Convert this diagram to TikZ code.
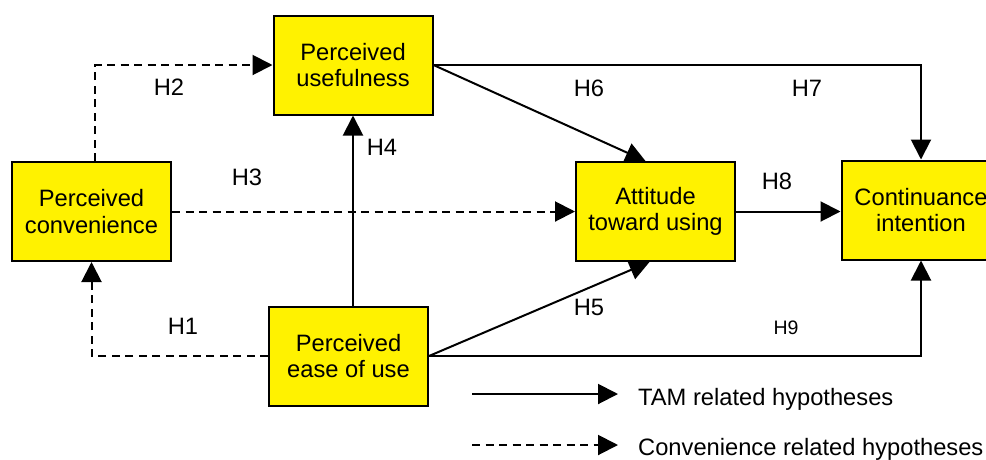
\documentclass[tikz,border=0pt]{standalone}
\usepackage{fontspec}
\setmainfont{Liberation Sans}
\usetikzlibrary{arrows.meta}

\begin{document}
\begin{tikzpicture}[
                x=1pt, y=-1pt,
                latent/.style={draw, line width=2pt, fill=yellow, align=center,
                    minimum width=159pt, minimum height=99pt, inner sep=0pt,
                    font=\fontsize{23.7}{26.5}\selectfont},
                tamlink/.style={line width=2pt, -{Triangle[length=20pt, width=20pt]}},
                convlink/.style={tamlink, dash pattern=on 8pt off 5.5pt},
                hyp/.style={font=\fontsize{23.7}{26.5}\selectfont} ]

            \useasboundingbox (0,0) rectangle (986,459);

            % constructs
            \node[latent] (PU) at (353,65) {Perceived\\usefulness};
            \node[latent] (PC) at (91.5,211.5) {Perceived\\convenience};
            \node[latent] (PEOU) at (348.5,356) {Perceived\\ease of use};
            \node[latent] (ATT) at (655.5,211.5) {Attitude\\toward using};
            \node[latent] (CI) at (921,210) {Continuance\\intention};

            % convenience paths
            \draw[convlink] (PEOU.west) -| (PC.south);
            \draw[convlink] ([xshift=3.5pt]PC.north) |- (PU.west);
            \draw[convlink] (PC.east) -- (ATT.west);

            % TAM paths
            \draw[tamlink] (PEOU.north -| PU.south) -- (PU.south);
            \draw[tamlink] (PEOU.east) -- ([xshift=-6pt]ATT.south);
            \draw[tamlink] (PU.east) -- ([xshift=-10pt]ATT.north);
            \draw[tamlink] (PU.east) -| (CI.north);
            \draw[tamlink] (ATT.east) -- (ATT.east -| CI.west);
            \draw[tamlink] (PEOU.east) -| (CI.south);

            \node[hyp] (h1) at (183,326) {H1};
            \node[hyp] (h2) at (169,87) {H2};
            \node[hyp] (h3) at (247,177) {H3};
            \node[hyp] (h4) at (382,147) {H4};
            \node[hyp] (h5) at (589,307) {H5};
            \node[hyp] (h6) at (589,88) {H6};
            \node[hyp] (h7) at (807,88) {H7};
            \node[hyp] (h8) at (777,181) {H8};
            \node[font=\fontsize{19.5}{22}\selectfont] (h9) at (786,328) {H9};

            % legend
            \coordinate (tamA) at (472,394);
            \coordinate (tamB) at (618,394);
            \coordinate (convA) at (472,445);
            \coordinate (convB) at (618,445);
            \draw[tamlink] (tamA) -- (tamB);
            \draw[convlink] (convA) -- (convB);
            \node[hyp, anchor=base west, inner sep=0pt] (tamtxt) at (638,405) {TAM related hypotheses};
            \node[hyp, anchor=base west, inner sep=0pt] (convtxt) at (638,455) {Convenience related hypotheses};

        \end{tikzpicture}
\end{document}
